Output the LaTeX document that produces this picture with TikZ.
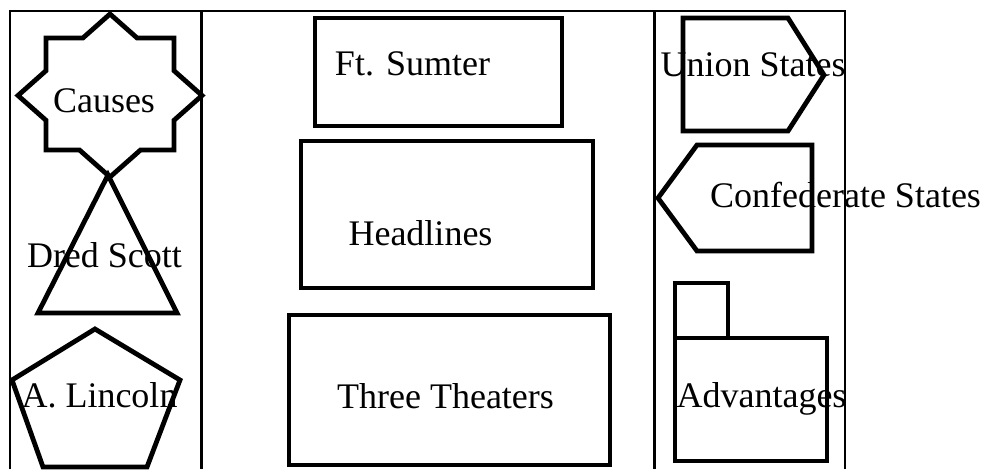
\documentclass[tikz,border=0pt]{standalone}
\usepackage{fontspec}
\setmainfont{Liberation Serif}
\usepackage{tikz}
\usetikzlibrary{positioning}

\begin{document}
\begin{tikzpicture}[
  x=1pt,y=-1pt,
  every node/.style={font=\fontsize{36}{40}\selectfont},
  outline/.style={line width=4.8pt},
  frame/.style={line width=2pt},
  divider/.style={line width=3pt},
  lbl/.style={anchor=base,inner sep=0pt}
]
\useasboundingbox (0,0) rectangle (985,469);

% frame and column dividers
\draw[frame] (10,469)--(10,11)--(845,11)--(845,469);
\draw[divider] (201,11)--(201,469);
\draw[divider] (654,11)--(654,469);

% left column
\begin{scope}
  % star
  \draw[outline] (110,14)--(137.1,38)--(174,38)--(174,70.7)--(202,95.5)
    --(174,120.3)--(174,150)--(140.5,150)--(110,177)--(79.5,150)
    --(46,150)--(46,120.3)--(18,95.5)--(46,70.7)--(46,38)--(82.9,38)--cycle;
  \node[lbl] (causes) at (104,112) {Causes};

  % triangle
  \draw[outline] (108,175)--(177,313)--(38,313)--cycle;
  \node[lbl] (dred) at (104.5,267) {Dred Scott};

  % pentagon
  \draw[outline] (95,329)--(180,380)--(147,467)--(43,467)--(12,380)--cycle;
  \node[lbl] (lincoln) at (99.5,407) {A. Lincoln};
\end{scope}

% middle column
\begin{scope}
  \draw[outline] (315,18) rectangle (562,126);
  \node[lbl] (sumter) at (412.5,75) {Ft. Sumter};

  \draw[outline] (301,141) rectangle (593,288);
  \node[lbl] (headlines) at (420.5,245) {Headlines};

  \draw[outline] (289,315) rectangle (610,465);
  \node[lbl] (theaters) at (445.5,408) {Three Theaters};
\end{scope}

% right column
\begin{scope}
  % arrow to the right
  \draw[outline] (683,18)--(788,18)--(824,75)--(788,131)--(683,131)--cycle;
  \node[lbl] (union) at (753,76) {Union States};

  % arrow to the left
  \draw[outline] (697,145)--(812,145)--(812,251)--(697,251)--(658,198)--cycle;
  \node[lbl] (confed) at (845.5,207) {Confederate States};

  % tab and box
  \draw[outline] (675,283) rectangle (728,338);
  \draw[outline] (675,338) rectangle (827,461);
  \node[lbl] (advantages) at (761.5,407) {Advantages};
\end{scope}

\end{tikzpicture}
\end{document}
